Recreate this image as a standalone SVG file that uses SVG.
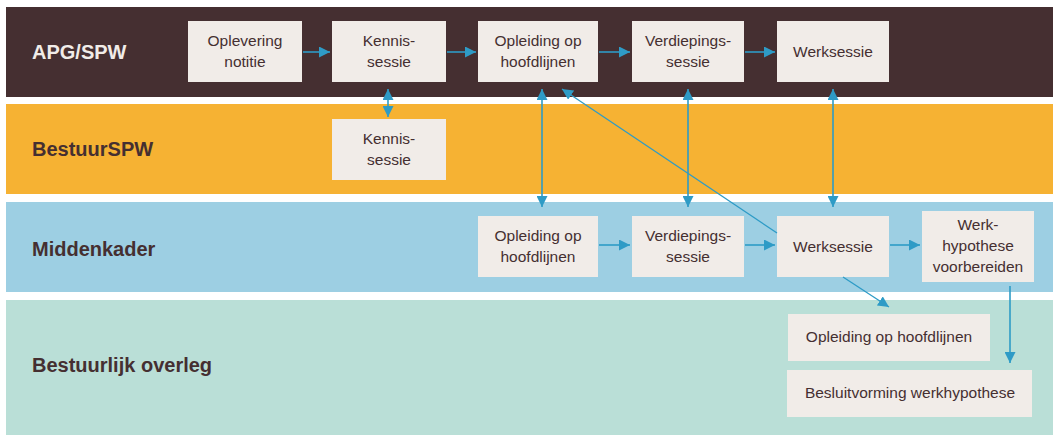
<svg xmlns="http://www.w3.org/2000/svg" width="1053" height="435" viewBox="0 0 1053 435">
<defs>
<style>
.band-label{font-family:"Liberation Sans",Arial,sans-serif;font-weight:bold;font-size:20px;fill:#452f31}
.box{fill:#f1ece8}
.t{font-family:"Liberation Sans",Arial,sans-serif;font-size:15.5px;fill:#452f31;text-anchor:middle}
.c{stroke:#2e9bc6;stroke-width:1.6;fill:none}
.ah{marker-end:url(#arr)}
.dbl{marker-start:url(#arr);marker-end:url(#arr)}
</style>
<marker id="arr" viewBox="0 0 10 10" refX="10" refY="5" markerWidth="11" markerHeight="11" markerUnits="userSpaceOnUse" orient="auto-start-reverse">
<path d="M0,0 L10,5 L0,10 z" fill="#2e9bc6"/>
</marker>
</defs>
<rect width="1053" height="435" fill="#ffffff"/>
<g id="lanes">
<rect x="6" y="7" width="1047" height="90" fill="#452f31"/>
<rect x="6" y="104" width="1047" height="90" fill="#f6b233"/>
<rect x="6" y="202" width="1047" height="90" fill="#9dcfe3"/>
<rect x="6" y="300" width="1047" height="135" fill="#badfd7"/>
<text class="band-label" x="32" y="59" style="fill:#f1ece8">APG/SPW</text>
<text class="band-label" x="32" y="156">BestuurSPW</text>
<text class="band-label" x="32" y="256">Middenkader</text>
<text class="band-label" x="32" y="372">Bestuurlijk overleg</text>
</g>
<g id="n1"><rect class="box" x="188" y="21" width="114" height="61"/><text class="t" x="245" y="46">Oplevering</text><text class="t" x="245" y="67">notitie</text></g>
<g id="n2"><rect class="box" x="332" y="21" width="114" height="61"/><text class="t" x="389" y="46">Kennis-</text><text class="t" x="389" y="67">sessie</text></g>
<g id="n3"><rect class="box" x="478" y="21" width="120" height="61"/><text class="t" x="538" y="46">Opleiding op</text><text class="t" x="538" y="67">hoofdlijnen</text></g>
<g id="n4"><rect class="box" x="632" y="21" width="112" height="61"/><text class="t" x="688" y="46">Verdiepings-</text><text class="t" x="688" y="67">sessie</text></g>
<g id="n5"><rect class="box" x="777" y="21" width="112" height="61"/><text class="t" x="833" y="57">Werksessie</text></g>
<g id="n6"><rect class="box" x="332" y="119" width="114" height="61"/><text class="t" x="389" y="144">Kennis-</text><text class="t" x="389" y="165">sessie</text></g>
<g id="n7"><rect class="box" x="478" y="216" width="120" height="61"/><text class="t" x="538" y="241">Opleiding op</text><text class="t" x="538" y="262">hoofdlijnen</text></g>
<g id="n8"><rect class="box" x="632" y="216" width="112" height="61"/><text class="t" x="688" y="241">Verdiepings-</text><text class="t" x="688" y="262">sessie</text></g>
<g id="n9"><rect class="box" x="777" y="216" width="112" height="61"/><text class="t" x="833" y="252">Werksessie</text></g>
<g id="n10"><rect class="box" x="922" y="211" width="112" height="71"/><text class="t" x="978" y="230">Werk-</text><text class="t" x="978" y="251">hypothese</text><text class="t" x="978" y="272">voorbereiden</text></g>
<g id="n11"><rect class="box" x="788" y="314" width="202" height="47"/><text class="t" x="889" y="342">Opleiding op hoofdlijnen</text></g>
<g id="n12"><rect class="box" x="787" y="370" width="245" height="47"/><text class="t" x="910" y="398">Besluitvorming werkhypothese</text></g>
<g id="connectors">
<line class="c ah" x1="303" y1="52" x2="330" y2="52"/>
<line class="c ah" x1="447" y1="52" x2="476" y2="52"/>
<line class="c ah" x1="599" y1="52" x2="630" y2="52"/>
<line class="c ah" x1="745" y1="52" x2="775" y2="52"/>
<line class="c ah" x1="599" y1="245" x2="630" y2="245"/>
<line class="c ah" x1="745" y1="245" x2="775" y2="245"/>
<line class="c ah" x1="890" y1="245" x2="920" y2="245"/>
<line class="c dbl" x1="388" y1="89" x2="388" y2="117"/>
<line class="c dbl" x1="542" y1="89" x2="542" y2="207"/>
<line class="c dbl" x1="688" y1="89" x2="688" y2="207"/>
<line class="c dbl" x1="833" y1="89" x2="833" y2="207"/>
<line class="c ah" style="stroke-width:1.3" x1="777" y1="233" x2="562" y2="89"/>
<line class="c ah" style="stroke-width:1.3" x1="843" y1="277" x2="889" y2="307"/>
<line class="c ah" x1="1010" y1="286" x2="1010" y2="363"/>
</g>
</svg>
